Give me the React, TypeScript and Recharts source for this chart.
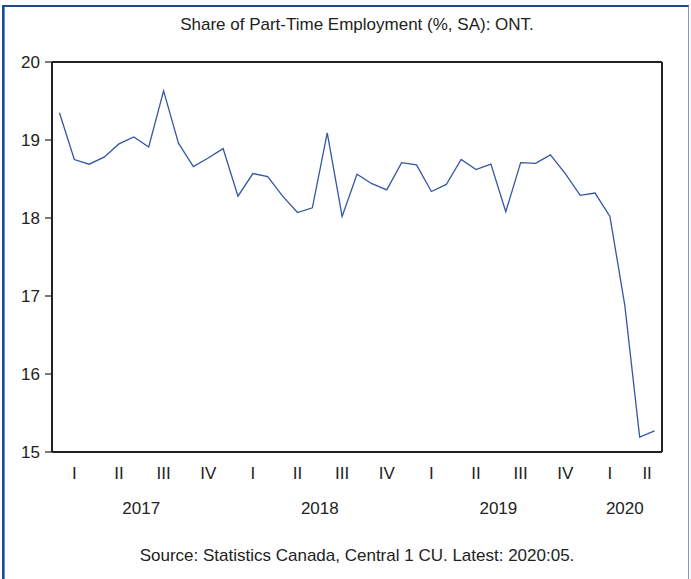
import { ComposedChart, Line, XAxis, YAxis } from "recharts";

const months = [
  "2017-01", "2017-02", "2017-03", "2017-04", "2017-05", "2017-06",
  "2017-07", "2017-08", "2017-09", "2017-10", "2017-11", "2017-12",
  "2018-01", "2018-02", "2018-03", "2018-04", "2018-05", "2018-06",
  "2018-07", "2018-08", "2018-09", "2018-10", "2018-11", "2018-12",
  "2019-01", "2019-02", "2019-03", "2019-04", "2019-05", "2019-06",
  "2019-07", "2019-08", "2019-09", "2019-10", "2019-11", "2019-12",
  "2020-01", "2020-02", "2020-03", "2020-04", "2020-05",
];

const partTimeShare = [
  19.35, 18.75, 18.69, 18.78, 18.95, 19.04, 18.91, 19.63, 18.96, 18.66, 18.77, 18.89,
  18.28, 18.57, 18.53, 18.28, 18.07, 18.13, 19.09, 18.02, 18.56, 18.44, 18.36, 18.71,
  18.68, 18.34, 18.43, 18.75, 18.62, 18.69, 18.08, 18.71, 18.70, 18.81, 18.57, 18.29,
  18.32, 18.02, 16.88, 15.19, 15.27,
];

const monthBoundaries = Array.from({ length: months.length + 1 }, (_, i) => i);
const quarterBoundaries = [0, 3, 6, 9, 12, 15, 18, 21, 24, 27, 30, 33, 36, 39];
const quarterTicks = [1.5, 4.5, 7.5, 10.5, 13.5, 16.5, 19.5, 22.5, 25.5, 28.5, 31.5, 34.5, 37.5, 40];
const quarterLabels = ["I", "II", "III", "IV", "I", "II", "III", "IV", "I", "II", "III", "IV", "I", "II"];
const yearTicks = [6, 18, 30, 38.5];
const yearLabels = ["2017", "2018", "2019", "2020"];
const yTicks = [15, 16, 17, 18, 19, 20];

const data = partTimeShare.map((value, i) => ({
  pos: i + 0.5,
  month: months[i],
  value,
}));

const font = "'Liberation Sans', Arial, sans-serif";
const ink = "#222";
const tickStyle = { fontSize: 17, fill: ink, fontFamily: font };
const xDomain: [number, number] = [0, months.length];

export default function App() {
  return (
    <div
      style={{
        position: "absolute",
        left: 0,
        top: 0,
        width: 691,
        height: 579,
        background: "#fff",
        overflow: "hidden",
        fontFamily: font,
      }}
    >
      <div
        style={{
          position: "absolute",
          left: 2,
          top: 5,
          width: 684,
          height: 600,
          borderTop: "2px solid #1d4b8a",
          borderLeft: "2px solid #1d4b8a",
          borderRight: "1px solid #7b98c6",
          boxShadow: "inset 1px 0 0 #6d8fc4",
        }}
      />
      <div
        style={{
          position: "absolute",
          left: 52,
          width: 610,
          top: 16,
          textAlign: "center",
          fontSize: 17,
          lineHeight: "17px",
          color: ink,
        }}
      >
        Share of Part-Time Employment (%, SA): ONT.
      </div>
      <ComposedChart
        width={691}
        height={579}
        data={data}
        margin={{ top: 61, right: 28, bottom: 123, left: 0 }}
        style={{ position: "absolute", left: 0, top: 0 }}
      >
        <XAxis
          xAxisId="m"
          dataKey="pos"
          type="number"
          domain={xDomain}
          allowDataOverflow
          ticks={monthBoundaries}
          interval={0}
          height={1}
          tick={false}
          tickSize={4}
          axisLine={{ stroke: ink, strokeWidth: 2 }}
          tickLine={{ stroke: ink, strokeWidth: 1.2 }}
        />
        <XAxis
          xAxisId="qb"
          dataKey="pos"
          type="number"
          domain={xDomain}
          allowDataOverflow
          ticks={quarterBoundaries}
          interval={0}
          height={1}
          tick={false}
          tickSize={7}
          axisLine={false}
          tickLine={{ stroke: ink, strokeWidth: 1.4 }}
        />
        <XAxis
          xAxisId="q"
          dataKey="pos"
          type="number"
          domain={xDomain}
          allowDataOverflow
          ticks={quarterTicks}
          interval={0}
          height={1}
          tickSize={0}
          tickMargin={14}
          axisLine={false}
          tickLine={false}
          tick={tickStyle}
          tickFormatter={(v: number) => quarterLabels[quarterTicks.indexOf(v)] ?? ""}
        />
        <XAxis
          xAxisId="y"
          dataKey="pos"
          type="number"
          domain={xDomain}
          allowDataOverflow
          ticks={yearTicks}
          interval={0}
          height={1}
          tickSize={0}
          tickMargin={47}
          axisLine={false}
          tickLine={false}
          tick={tickStyle}
          tickFormatter={(v: number) => yearLabels[yearTicks.indexOf(v)] ?? ""}
        />
        <XAxis
          xAxisId="top"
          dataKey="pos"
          orientation="top"
          type="number"
          domain={xDomain}
          allowDataOverflow
          height={1}
          tick={false}
          tickLine={false}
          axisLine={{ stroke: ink, strokeWidth: 2 }}
        />
        <YAxis
          yAxisId="l"
          domain={[15, 20]}
          allowDataOverflow
          ticks={yTicks}
          interval={0}
          width={52}
          tickSize={7}
          tickMargin={5}
          tick={tickStyle}
          axisLine={{ stroke: ink, strokeWidth: 2 }}
          tickLine={{ stroke: ink, strokeWidth: 1.2 }}
        />
        <YAxis
          yAxisId="r"
          orientation="right"
          domain={[15, 20]}
          width={1}
          tick={false}
          tickLine={false}
          axisLine={{ stroke: ink, strokeWidth: 2 }}
        />
        <Line
          xAxisId="m"
          yAxisId="l"
          type="linear"
          dataKey="value"
          stroke="#3456a6"
          strokeWidth={1.3}
          dot={false}
          isAnimationActive={false}
        />
      </ComposedChart>
      <div
        style={{
          position: "absolute",
          left: 52,
          width: 610,
          top: 547,
          textAlign: "center",
          fontSize: 17,
          lineHeight: "17px",
          color: ink,
        }}
      >
        Source: Statistics Canada, Central 1 CU. Latest: 2020:05.
      </div>
    </div>
  );
}
